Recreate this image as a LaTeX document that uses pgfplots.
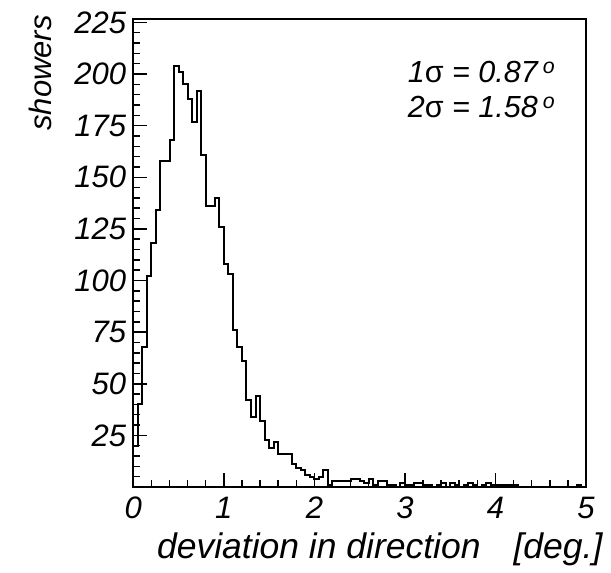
\documentclass[border=0pt]{standalone}
\usepackage{fontspec}
\setmainfont{Liberation Sans}
\usepackage{pgfplots}
\pgfplotsset{compat=1.18}
\begin{document}
\begin{tikzpicture}
\path[use as bounding box] (-133.3pt,-86pt) rectangle (477.7pt,487pt);
\begin{axis}[
  width=452.7pt, height=467.7pt, scale only axis,
  xmin=0, xmax=5, ymin=0, ymax=226.5,
  xtick={0,1,2,3,4,5},
  ytick={25,50,75,100,125,150,175,200,225},
  minor x tick num=4,
  minor ytick={0,5,...,225},
  tick pos=left,
  tick align=inside,
  major tick length=14pt, minor tick length=7pt,
  every tick/.style={line width=1.5pt, black},
  axis line style={line width=1.9pt},
  /pgf/number format/assume math mode=true,
  ticklabel style={font=\itshape\fontsize{31}{31}\selectfont},
  xticklabel style={inner sep=0pt, yshift=-10pt},
  yticklabel style={inner sep=0pt, xshift=-7pt},
  xlabel={deviation in direction\hspace{33pt}[deg.]},
  xlabel style={at={(axis description cs:1.0369,-0.15245)}, anchor=base east, inner sep=0pt, font=\itshape\fontsize{35.5}{35.5}\selectfont},
  ylabel={showers},
  ylabel style={at={(axis description cs:-0.1796,1.0092)}, rotate=0, anchor=base east, inner sep=0pt, font=\itshape\fontsize{31}{31}\selectfont},
  clip=false,
]
\addplot[const plot, line width=2pt, black] coordinates {
(0,0) (0,20) (0.05,40) (0.1,68) (0.15,102) (0.2,118) (0.25,134) (0.3,158) (0.35,158) (0.4,168)
(0.45,204) (0.5,201) (0.55,195) (0.6,188) (0.65,177) (0.7,192) (0.75,161) (0.8,136) (0.85,136)
(0.9,140) (0.95,126) (1.0,108) (1.05,103) (1.1,76) (1.15,68) (1.2,61) (1.25,42) (1.3,34)
(1.35,44) (1.4,32) (1.45,23) (1.5,19) (1.55,22) (1.6,16) (1.65,16) (1.7,16) (1.75,11) (1.8,9)
(1.85,8) (1.9,6) (1.95,5) (2.0,4) (2.05,5) (2.1,8) (2.15,1) (2.2,3) (2.25,3) (2.3,3) (2.35,3)
(2.4,4) (2.45,4) (2.5,3) (2.55,2) (2.6,4) (2.65,1) (2.7,3) (2.75,3) (2.8,1) (2.85,1) (2.9,0)
(2.95,2) (3.0,1) (3.05,1) (3.1,2) (3.15,2) (3.2,1) (3.25,1) (3.3,0) (3.35,1) (3.4,2) (3.45,0)
(3.5,2) (3.55,1) (3.6,0) (3.65,1) (3.7,2) (3.75,1) (3.8,0) (3.85,1) (3.9,2) (3.95,1) (4.0,1)
(4.05,1) (4.1,1) (4.15,1) (4.2,1) (4.25,0) (4.3,0) (4.35,0) (4.4,0) (4.45,0) (4.5,0) (4.55,0)
(4.6,0) (4.65,0) (4.7,0) (4.75,0) (4.8,0) (4.85,0) (4.9,1) (4.95,0) (5,0)
};
\node[anchor=base west, inner sep=0pt, font=\itshape\fontsize{30.5}{30.5}\selectfont] at (rel axis cs:0.6060,0.8650) {1{\upshape σ} = 0.87\,\textsuperscript{o}};
\node[anchor=base west, inner sep=0pt, font=\itshape\fontsize{30.5}{30.5}\selectfont] at (rel axis cs:0.6060,0.7900) {2{\upshape σ} = 1.58\,\textsuperscript{o}};
\end{axis}
\end{tikzpicture}
\end{document}
